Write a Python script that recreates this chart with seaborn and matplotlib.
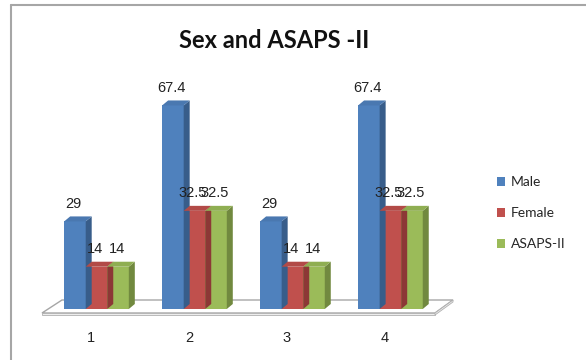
import matplotlib
matplotlib.use("Agg")
import matplotlib.pyplot as plt
from matplotlib.patches import Polygon
from matplotlib.lines import Line2D
from matplotlib.transforms import ScaledTranslation
import seaborn as sns
import pandas as pd

# Chart data
groups = ["1", "2", "3", "4"]
series = ["Male", "Female", "ASAPS-II"]
male = [29, 67.4, 29, 67.4]
female = [14, 32.5, 14, 32.5]
asaps = [14, 32.5, 14, 32.5]
title = "Sex and ASAPS -II"

face_colors = ["#4F81BD", "#C0504D", "#9BBB59"]
side_colors = ["#385D8A", "#8C3836", "#71893F"]
top_colors = ["#4A78B0", "#B24A47", "#8FAE52"]

df = pd.DataFrame({
    "group": groups * 3,
    "series": [s for s in series for _ in groups],
    "value": male + female + asaps,
})

sns.set_theme(style="white")
W, H = 586, 360
fig = plt.figure(figsize=(W / 100, H / 100), dpi=100)
fig.patch.set_facecolor("white")

# axes placed in pixel terms: x from 42 to 435, baseline at y=309
ax_left, ax_right = 42, 435
base_y, top_y = 309, 309 - 80 * 3.02
ax = fig.add_axes([ax_left / W, (H - base_y) / H,
                   (ax_right - ax_left) / W, (base_y - top_y) / H])

sns.barplot(data=df, x="group", y="value", hue="series", order=groups,
            hue_order=series, palette=face_colors, width=0.66, gap=0,
            saturation=1, ax=ax, zorder=3, linewidth=0, errorbar=None)

ax.set_xlim(-0.556, 3.455)
ax.set_ylim(0, 80)
for s in ax.spines.values():
    s.set_visible(False)
ax.set_xlabel("")
ax.set_ylabel("")
ax.set_yticks([])
ax.tick_params(axis="x", length=0, pad=16)
shift = ScaledTranslation(-5.5 / 100, 0, fig.dpi_scale_trans)
for lab in ax.get_xticklabels():
    lab.set_fontfamily("Liberation Sans")
    lab.set_fontsize(10.5)
    lab.set_color("#222222")
    lab.set_transform(lab.get_transform() + shift)

# pixel -> data conversion
px_x = (ax_right - ax_left) / (3.455 + 0.556)
px_y = 3.02
ddx, ddy = 6 / px_x, 5 / px_y

def px2data(xp, yp):
    return ((xp - ax_left) / px_x - 0.556, (base_y - yp) / px_y)

# floor slab
floor = [px2data(42, 313), px2data(435, 313), px2data(453, 300), px2data(62, 300)]
ax.add_patch(Polygon(floor, closed=True, facecolor="white", edgecolor="#A6A6A6",
                     lw=1.0, zorder=1, clip_on=False))
slab = [px2data(42, 313), px2data(435, 313), px2data(435, 315), px2data(42, 315)]
ax.add_patch(Polygon(slab, closed=True, facecolor="#EDEDED", edgecolor="#B0B0B0",
                     lw=0.6, zorder=1, clip_on=False))
slab_r = [px2data(435, 313), px2data(453, 300), px2data(453, 302), px2data(435, 315)]
ax.add_patch(Polygon(slab_r, closed=True, facecolor="#EDEDED", edgecolor="#B0B0B0",
                     lw=0.6, zorder=1, clip_on=False))

# 3D faces and value labels for each bar
bars = [p for p in ax.patches if p.zorder == 3 and p.get_height() > 0]
for i, bar in enumerate(bars):
    k = i // len(groups)
    x0, w, h = bar.get_x(), bar.get_width(), bar.get_height()
    side = [(x0 + w, 0), (x0 + w + ddx, ddy), (x0 + w + ddx, h + ddy), (x0 + w, h)]
    top = [(x0, h), (x0 + w, h), (x0 + w + ddx, h + ddy), (x0 + ddx, h + ddy)]
    ax.add_patch(Polygon(side, closed=True, facecolor=side_colors[k], lw=0,
                         zorder=3, clip_on=False))
    ax.add_patch(Polygon(top, closed=True, facecolor=top_colors[k], lw=0,
                         zorder=3, clip_on=False))
    ax.annotate(f"{h:g}", (x0 + w / 2, h), xytext=(-1, 7.5),
                textcoords="offset points", ha="center", va="bottom",
                fontsize=10.5, family="Liberation Sans", color="#222222",
                zorder=5, annotation_clip=False)

# legend
handles, labels = ax.get_legend_handles_labels()
if ax.get_legend() is not None:
    ax.get_legend().remove()
fig.legend(handles[:3], labels[:3], loc="upper left",
           bbox_to_anchor=(484 / W, 1 - 164 / H), frameon=False,
           prop={"family": "Lato", "size": 10}, handlelength=0.6,
           handleheight=0.6, handletextpad=0.45, labelspacing=1.35)

fig.text(274 / W, 1 - 41 / H, title, ha="center", va="center",
         fontsize=17, fontfamily="Lato", fontweight="bold", color="#111111")

# outer chart border
fig.add_artist(Line2D([11 / W, 11 / W], [0, 1 - 5 / H], color="#A6A6A6", lw=1.5,
                      transform=fig.transFigure))
fig.add_artist(Line2D([11 / W, 1], [1 - 5 / H, 1 - 5 / H], color="#A6A6A6", lw=1.5,
                      transform=fig.transFigure))

fig.savefig("out.png", dpi=100)
